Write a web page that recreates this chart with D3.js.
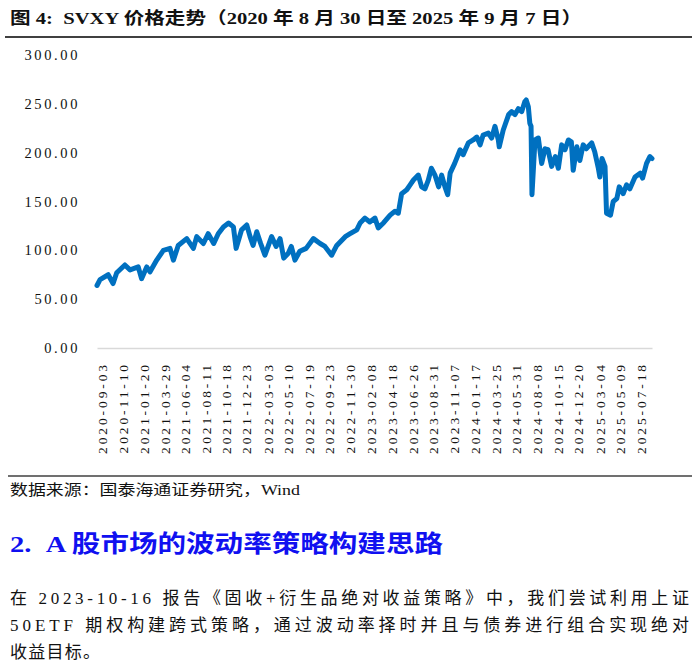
<!DOCTYPE html>
<html>
<head>
  <meta charset="utf-8">
  <title>SVXY</title>
  <script src="https://cdn.jsdelivr.net/npm/d3@7"></script>
  <style>
    body { margin: 0; background: #ffffff; }
    .axis text {
      font-family: "Liberation Serif", "Noto Sans CJK SC", serif;
      fill: #111111;
    }
    .title {
      font-family: "Liberation Serif", "Noto Sans CJK SC", serif;
      font-weight: bold;
      font-size: 17px;
      fill: #111111;
    }
    .body-text {
      font-family: "Liberation Serif", "Noto Sans CJK SC", serif;
      fill: #111111;
    }
  </style>
</head>
<body>
<script>
  // Data
  var dates = ["2020-08-31","2020-09-10","2020-10-07","2020-10-23","2020-11-04","2020-12-01","2020-12-18",
    "2021-01-14","2021-01-25","2021-02-11","2021-02-22","2021-03-16","2021-04-07","2021-04-29","2021-05-10",
    "2021-05-26","2021-06-23","2021-07-15","2021-07-26","2021-08-17","2021-09-02","2021-09-20","2021-10-05",
    "2021-10-22","2021-11-08","2021-11-24","2021-12-03","2021-12-21","2022-01-07","2022-01-18","2022-01-28",
    "2022-02-09","2022-02-22","2022-03-08","2022-03-30","2022-04-14","2022-04-27","2022-05-09","2022-05-24",
    "2022-06-03","2022-06-15","2022-07-01","2022-07-22","2022-08-15","2022-09-06","2022-09-22","2022-10-14",
    "2022-10-31","2022-11-28","2022-12-14","2023-01-05","2023-01-16","2023-02-01","2023-02-17","2023-03-06",
    "2023-03-17","2023-04-03","2023-04-25","2023-05-11","2023-05-22","2023-06-02","2023-06-19","2023-06-30",
    "2023-07-11","2023-07-27","2023-08-07","2023-08-18","2023-08-29","2023-09-08","2023-09-20","2023-10-02",
    "2023-10-12","2023-10-23","2023-11-01","2023-11-09","2023-11-24","2023-12-12","2023-12-22","2024-01-08",
    "2024-01-24","2024-02-05","2024-02-16","2024-02-26","2024-03-14","2024-03-25","2024-04-05","2024-04-16",
    "2024-04-19","2024-05-02","2024-05-20","2024-05-30","2024-06-10","2024-06-21","2024-07-02","2024-07-12",
    "2024-07-17","2024-07-24","2024-07-29","2024-08-02","2024-08-05","2024-08-15","2024-08-26","2024-09-06",
    "2024-09-17","2024-09-27","2024-10-09","2024-10-21","2024-10-31","2024-11-11","2024-11-22","2024-12-03",
    "2024-12-13","2024-12-19","2024-12-31","2025-01-10","2025-01-21","2025-01-31","2025-02-18","2025-02-28",
    "2025-03-12","2025-03-17","2025-03-24","2025-04-03","2025-04-08","2025-04-21","2025-04-30","2025-05-12",
    "2025-05-20","2025-06-02","2025-06-13","2025-06-24","2025-07-11","2025-07-28","2025-08-05","2025-08-18",
    "2025-08-29","2025-09-05"];
  var prices = [64, 70, 75, 66, 77, 85, 80,
    83, 71, 83, 78, 90, 100, 102, 90,
    105, 112, 102, 114, 107, 117, 107, 117,
    124, 128, 124, 102, 121, 126, 114, 105,
    119, 107, 95, 114, 104, 112, 92, 97,
    104, 90, 99, 102, 112, 107, 104, 95,
    105, 114, 117, 121, 128, 133, 129, 133,
    123, 128, 136, 140, 138, 158, 162, 167,
    172, 177, 165, 163, 172, 184, 177, 165,
    177, 165, 157, 179, 189, 203, 198, 210,
    213, 216, 208, 218, 220, 215, 227, 213,
    206, 223, 239, 242, 239, 245, 242, 252,
    254, 247, 230, 227, 157, 213, 215, 189,
    204, 203, 186, 196, 184, 208, 203, 213,
    211, 182, 206, 192, 208, 204, 210, 201,
    184, 175, 194, 186, 138, 136, 150, 153,
    165, 158, 167, 163, 175, 179, 174, 189,
    196, 194];

  var tickDates = ["2020-09-03","2020-11-10","2021-01-20","2021-03-29","2021-06-04","2021-08-11","2021-10-18",
    "2021-12-23","2022-03-03","2022-05-10","2022-07-19","2022-09-23","2022-11-30","2023-02-08","2023-04-18",
    "2023-06-26","2023-08-31","2023-11-07","2024-01-17","2024-03-25","2024-05-31","2024-08-08","2024-10-15",
    "2024-12-20","2025-03-04","2025-05-09","2025-07-18"];
  var yTicks = [0, 50, 100, 150, 200, 250, 300];

  var parseDate = d3.timeParse("%Y-%m-%d");
  var data = dates.map(function(d, i) { return {date: parseDate(d), value: prices[i]}; });

  var width = 697;
  var height = 667;
  var svg = d3.select("body").append("svg")
              .attr("width", width)
              .attr("height", height);

  // Title and rule (non-breaking spaces keep the double gap)
  svg.append("text")
     .attr("class", "title")
     .attr("x", 10)
     .attr("y", 24)
     .attr("textLength", 572)
     .attr("lengthAdjust", "spacingAndGlyphs")
     .text("图 4:\u00a0\u00a0SVXY 价格走势（2020 年 8 月 30 日至 2025 年 9 月 7 日）");

  svg.append("line")
     .attr("x1", 5).attr("x2", 692)
     .attr("y1", 37).attr("y2", 37)
     .attr("stroke", "#404040")
     .attr("stroke-width", 2);

  // Scales
  var xScale = d3.scaleTime()
                 .domain([parseDate("2020-08-31"), parseDate("2025-09-05")])
                 .range([97, 652]);
  var yScale = d3.scaleLinear()
                 .domain([0, 300])
                 .range([348, 55]);

  // Y axis
  var yAxis = d3.axisLeft(yScale)
                .tickValues(yTicks)
                .tickFormat(d3.format(".2f"))
                .tickSize(0)
                .tickPadding(17);
  var gy = svg.append("g")
              .attr("class", "axis")
              .attr("transform", "translate(97, 0)")
              .call(yAxis);
  gy.select(".domain").remove();
  gy.selectAll("text")
    .style("font-size", "14.5px")
    .style("letter-spacing", "2.6px");

  // X axis
  var xAxis = d3.axisBottom(xScale)
                .tickValues(tickDates.map(parseDate))
                .tickFormat(d3.timeFormat("%Y-%m-%d"))
                .tickSize(0);
  var gx = svg.append("g")
              .attr("class", "axis")
              .attr("transform", "translate(0, 348)")
              .call(xAxis);
  gx.select(".domain")
    .attr("stroke", "#d9d9d9")
    .attr("stroke-width", 1.5);
  gx.selectAll("text")
    .attr("transform", "rotate(-90)")
    .attr("x", -14)
    .attr("y", 4)
    .attr("dy", "0.35em")
    .style("text-anchor", "end")
    .style("font-size", "13.5px")
    .style("letter-spacing", "2.9px");

  // Price line
  var line = d3.line()
               .x(function(d) { return xScale(d.date); })
               .y(function(d) { return yScale(d.value); });
  svg.append("path")
     .datum(data)
     .attr("d", line)
     .attr("fill", "none")
     .attr("stroke", "#0070c0")
     .attr("stroke-width", 5)
     .attr("stroke-linejoin", "round")
     .attr("stroke-linecap", "round");

  // Footer rule and source
  svg.append("line")
     .attr("x1", 8).attr("x2", 692)
     .attr("y1", 476).attr("y2", 476)
     .attr("stroke", "#404040")
     .attr("stroke-width", 1.5);

  svg.append("text")
     .attr("class", "body-text")
     .attr("x", 10)
     .attr("y", 495)
     .attr("textLength", 290)
     .attr("lengthAdjust", "spacingAndGlyphs")
     .style("font-size", "14.5px")
     .text("数据来源：国泰海通证券研究，Wind");

  // Section heading
  svg.append("text")
     .attr("class", "body-text")
     .attr("x", 10)
     .attr("y", 552)
     .attr("textLength", 433)
     .attr("lengthAdjust", "spacingAndGlyphs")
     .style("font-size", "24px")
     .style("font-weight", "bold")
     .style("fill", "#1010f0")
     .text("2.\u00a0\u00a0A 股市场的波动率策略构建思路");

  // Paragraph
  var para = [
    {t: "在 2023-10-16 报告《固收+衍生品绝对收益策略》中，我们尝试利用上证", y: 604, w: 679},
    {t: "50ETF 期权构建跨式策略，通过波动率择时并且与债券进行组合实现绝对", y: 631, w: 679},
    {t: "收益目标。", y: 658, w: 90}
  ];
  svg.selectAll(".para")
     .data(para)
     .enter()
     .append("text")
     .attr("class", "body-text para")
     .attr("x", 10)
     .attr("y", function(d) { return d.y; })
     .attr("textLength", function(d) { return d.w; })
     .attr("lengthAdjust", "spacing")
     .style("font-size", "17px")
     .text(function(d) { return d.t; });
</script>
</body>
</html>
